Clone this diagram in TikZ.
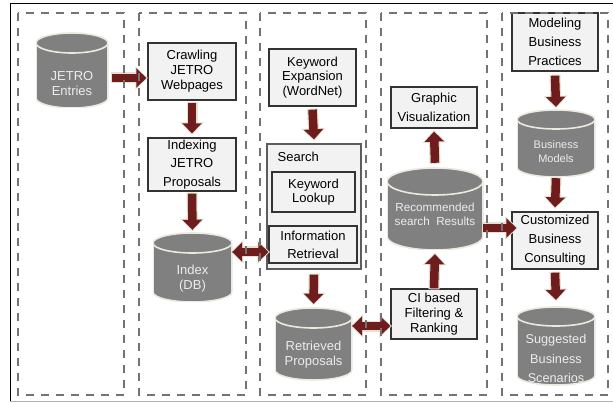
\documentclass[tikz,border=0pt]{standalone}
\usepackage{fontspec}
\setmainfont{Liberation Sans}
\usetikzlibrary{arrows.meta,calc}
\definecolor{dashgray}{HTML}{737373}
\definecolor{boxline}{HTML}{333333}
\definecolor{boxfill}{HTML}{F2F2F2}
\definecolor{cylfill}{HTML}{808080}
\definecolor{cylline}{HTML}{EDE9E0}
\definecolor{cyltext}{HTML}{ECECEC}
\definecolor{arrowred}{HTML}{6E1C1C}
\definecolor{halo}{HTML}{E6DFD3}
\tikzset{
  col/.style={draw=dashgray, line width=1.6pt, dash pattern=on 8pt off 7pt},
  box/.style={draw=boxline, fill=boxfill, line width=1.3pt, align=center, inner sep=0pt, font=\fontsize{13}{15}\selectfont},
  cylbody/.style 2 args={rectangle, inner sep=0pt, path picture={
      \path[draw=cylline, fill=cylfill, line width=1.6pt]
        ([yshift=-#2]path picture bounding box.north west) -- ([yshift=#2]path picture bounding box.south west)
        arc[start angle=180, end angle=360, x radius=#1, y radius=#2]
        -- ([yshift=-#2]path picture bounding box.north east)
        arc[start angle=0, end angle=180, x radius=#1, y radius=#2] -- cycle;
      \path[draw=cylline, line width=1.6pt]
        ([yshift=-#2]path picture bounding box.north west)
        arc[start angle=180, end angle=360, x radius=#1, y radius=#2];
  }},
  cyltxt/.style={inner sep=0pt, align=center, text=cyltext, font=\fontsize{13}{15}\selectfont},
  barrow/.style={draw=arrowred, line width=8.5pt, -{Triangle[width=19pt,length=10pt]},
    preaction={draw=halo, line width=11pt, -{Triangle[width=23pt,length=12.5pt]}, shorten >=-1.5pt, shorten <=-1pt}},
  darrow/.style={draw=arrowred, line width=8.5pt, {Triangle[width=19pt,length=10pt]}-{Triangle[width=19pt,length=10pt]},
    preaction={draw=halo, line width=11pt, {Triangle[width=23pt,length=12.5pt]}-{Triangle[width=23pt,length=12.5pt]}, shorten >=-1.5pt, shorten <=-1.5pt}},
}
\begin{document}
\begin{tikzpicture}[x=1pt,y=-1pt]
\useasboundingbox (0,0) rectangle (613,403);
% frame
\draw[black, line width=1pt] (10,401) -- (10,4) -- (613,4);
\draw[gray!60, line width=1pt] (10,401) -- (613,401);
% column 1
\node[cylbody={36pt}{10pt}, minimum width=72pt, minimum height=75pt] (jetro) at (72,70.5) {};
\node[cyltxt] (jetrot) at (72,83.5) {JETRO\\Entries};
% column 2
\node[box, minimum width=88pt, minimum height=57pt] (crawl) at (192,71.5) {Crawling\\JETRO\\Webpages};
\node[box, minimum width=88pt, minimum height=53pt, font=\fontsize{13}{18.5}\selectfont] (index) at (192,164.5) {Indexing\\JETRO\\Proposals};
\node[cylbody={39.5pt}{10pt}, minimum width=79pt, minimum height=69pt] (indexdb) at (192.5,267.5) {};
\node[cyltxt] (indexdbt) at (192.5,278.5) {Index\\(DB)};
% column 3
\node[box, minimum width=87pt, minimum height=57pt, font=\fontsize{13}{14.5}\selectfont] (kwexp) at (312.5,77.5) {Keyword\\Expansion\\(WordNet)};
\node[box, minimum width=94pt, minimum height=125pt, draw=boxline!80] (search) at (314,206.5) {};
\node[anchor=west, inner sep=0pt, font=\fontsize{13}{15}\selectfont] (searchlbl) at (277.5,157) {Search};
\node[box, minimum width=83pt, minimum height=40pt, font=\fontsize{13}{14}\selectfont] (lookup) at (313.5,192) {Keyword\\Lookup};
\node[box, minimum width=88pt, minimum height=37pt, font=\fontsize{13}{18}\selectfont] (inforet) at (313,244.5) {Information\\Retrieval};
\node[cylbody={38.5pt}{10pt}, minimum width=77pt, minimum height=72pt] (retr) at (313.5,344) {};
\node[cyltxt] (retrt) at (313.5,354.5) {Retrieved\\Proposals};
% column 4
\node[box, minimum width=86pt, minimum height=41pt, font=\fontsize{13}{19}\selectfont] (gv) at (434,107.5) {Graphic\\Visualization};
\node[cylbody={48pt}{13.5pt}, minimum width=96pt, minimum height=82pt] (rec) at (435,209) {};
\node[cyltxt, font=\fontsize{11.7}{14}\selectfont] (rect) at (435,214.5) {Recommended\\search~~Results};
\node[box, minimum width=86pt, minimum height=50pt] (ci) at (434,314) {CI based\\Filtering \&\\Ranking};
% column 5
\node[box, minimum width=86pt, minimum height=58pt, font=\fontsize{13}{19}\selectfont] (mbp) at (555,42) {Modeling\\Business\\Practices};
\node[cylbody={39pt}{9.5pt}, minimum width=78pt, minimum height=67pt] (bm) at (556,143.5) {};
\node[cyltxt, font=\fontsize{11}{14}\selectfont] (bmt) at (556,152) {Business\\Models};
\node[box, minimum width=86pt, minimum height=57pt, font=\fontsize{13}{19}\selectfont] (cbc) at (555,240.5) {Customized\\Business\\Consulting};
\node[cylbody={39pt}{9.5pt}, minimum width=78pt, minimum height=78pt] (sbs) at (556,346) {};
\node[cyltxt, font=\fontsize{12.7}{19.5}\selectfont] (sbst) at (556,358.5) {Suggested\\Business\\Scenarios};
% arrows
\draw[barrow] ([xshift=4pt,yshift=-7.5pt]jetro.east) -- ([xshift=-1pt,yshift=-6.5pt]crawl.west);
\draw[barrow] ([yshift=-2pt]crawl.south) -- ([yshift=4pt]index.north);
\draw[barrow] ([yshift=-2pt]index.south) -- ([yshift=3pt]indexdb.north);
\draw[darrow] ([yshift=15.5pt]indexdb.east) -- ([yshift=-7.5pt]inforet.west);
\draw[barrow] ([yshift=-3pt]kwexp.south) -- ([yshift=4pt]search.north);
\draw[barrow] ([yshift=-5pt]search.south) -- ([yshift=4pt]retr.north);
\draw[darrow] ([yshift=18pt]retr.east) -- ([yshift=-12pt]ci.west);
\draw[barrow] ([yshift=5pt]rec.north) -- ([yshift=-3pt]gv.south);
\draw[barrow] (ci.north) -- ([yshift=-4pt]rec.south);
\draw[barrow] ([yshift=-19pt]rec.east) -- ([xshift=5pt,yshift=12.5pt]cbc.west);
\draw[barrow] ([yshift=-4pt]mbp.south) -- ([yshift=3pt]bm.north);
\draw[barrow] ([yshift=-1pt]bm.south) -- ([yshift=4pt]cbc.north);
\draw[barrow] ([yshift=-3pt]cbc.south) -- ([yshift=7pt]sbs.north);
% columns (drawn on top, as in the reference)
\draw[col] (18,13) rectangle (124,395);
\draw[col] (139,13) rectangle (246,395);
\draw[col] (260,13) rectangle (366,395);
\draw[col] (381,13) rectangle (487,395);
\draw[col] (502,13) rectangle (608,395);
\end{tikzpicture}
\end{document}
